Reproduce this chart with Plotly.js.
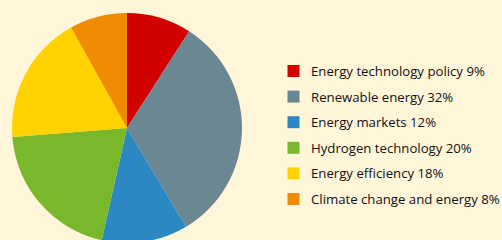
<!DOCTYPE html>
<html>
<head>
<meta charset="utf-8">
<script src="https://cdn.plot.ly/plotly-3.0.1.min.js"></script>
<style>
html,body{margin:0;padding:0;background:#FFF5D9;overflow:hidden;width:502px;height:240px;}
#chart{width:502px;height:260px;}
</style>
</head>
<body>
<div id="chart"></div>
<script>
const labels = ["Energy technology policy", "Renewable energy", "Energy markets", "Hydrogen technology", "Energy efficiency", "Climate change and energy"];
const shares = [9, 32, 12, 20, 18, 8];
const colors = ["#D30000", "#6B8892", "#2B88C2", "#78B82A", "#FFD200", "#F08A00"];

const W = 502, H = 260, BG = "#FFF5D9";
const px = x => x / W;
const py = y => 1 - y / H;

const pie = {
  type: "pie",
  values: shares,
  labels: labels,
  marker: {colors: colors, line: {width: 0}},
  sort: false,
  direction: "clockwise",
  rotation: 0,
  textinfo: "none",
  hoverinfo: "label+percent",
  showlegend: false,
  domain: {x: [px(12), px(242)], y: [py(243), py(13)]}
};

const legendTop = 71, legendStep = 25.6;
const shapes = [], annotations = [];
labels.forEach((lab, i) => {
  const cy = legendTop + i * legendStep;
  shapes.push({type: "rect", xref: "paper", yref: "paper",
    x0: px(287.5), x1: px(299.5), y0: py(cy - 6), y1: py(cy + 6),
    fillcolor: colors[i], line: {width: 0}});
  annotations.push({xref: "paper", yref: "paper", x: px(309), y: py(cy),
    xanchor: "left", yanchor: "middle", showarrow: false,
    text: lab + " " + shares[i] + "%",
    font: {family: "Open Sans", size: 13.2, color: "#111111"}});
});

Plotly.newPlot("chart", [pie], {
  width: W, height: H,
  margin: {l: 0, r: 0, t: 0, b: 0},
  paper_bgcolor: BG, plot_bgcolor: BG,
  shapes: shapes, annotations: annotations,
  showlegend: false
}, {displayModeBar: false, staticPlot: true});
</script>
</body>
</html>
